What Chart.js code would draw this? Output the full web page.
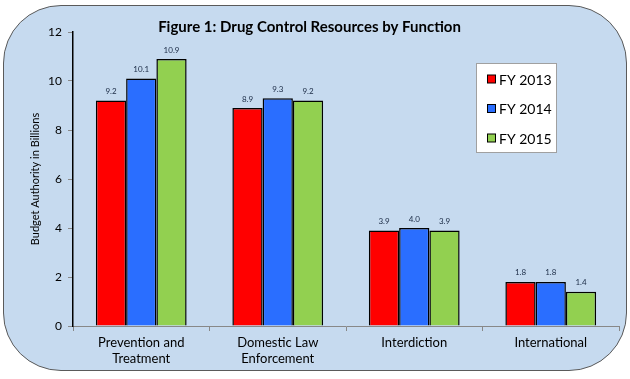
<!DOCTYPE html>
<html>
<head>
<meta charset="utf-8">
<script src="https://cdn.jsdelivr.net/npm/chart.js@4.4.0/dist/chart.umd.min.js"></script>
<style>
  html, body { margin: 0; padding: 0; background: #ffffff; }
  #wrap { position: relative; width: 630px; height: 379px; }
  #bg { position: absolute; left: 3px; top: 5px; width: 622px; height: 364px;
        border: 1.5px solid #5a5a5a; border-radius: 58px; background: #c6daef; }
  #c { position: absolute; left: 0; top: 0; }
</style>
</head>
<body>
<div id="wrap">
  <div id="bg"></div>
  <canvas id="c" width="630" height="379"></canvas>
</div>
<script>
const categories = [["Prevention and", "Treatment"], ["Domestic Law", "Enforcement"], "Interdiction", "International"];
const seriesNames = ["FY 2013", "FY 2014", "FY 2015"];
const fy2013 = [9.2, 8.9, 3.9, 1.8];
const fy2014 = [10.1, 9.3, 4.0, 1.8];
const fy2015 = [10.9, 9.2, 3.9, 1.4];
const yTicks = [0, 2, 4, 6, 8, 10, 12];
const colors = ["#ff0000", "#2a6eff", "#92d050"];

const FONT = "Lato, 'Open Sans', sans-serif";

const valueLabels = {
  id: 'valueLabels',
  afterDatasetsDraw(chart) {
    const ctx = chart.ctx;
    ctx.save();
    ctx.font = "8px " + FONT;
    ctx.fillStyle = "#1a2a44";
    ctx.textAlign = "center";
    ctx.textBaseline = "bottom";
    chart.data.datasets.forEach((ds, i) => {
      const meta = chart.getDatasetMeta(i);
      meta.data.forEach((bar, j) => {
        ctx.fillText(ds.data[j].toFixed(1), bar.x, bar.y - 5);
      });
    });
    ctx.restore();
  }
};

const boxLegend = {
  id: 'boxLegend',
  afterDraw(chart) {
    const ctx = chart.ctx;
    ctx.save();
    const x = 476.5, y = 63.5, w = 80, h = 89;
    ctx.fillStyle = "#ffffff";
    ctx.fillRect(x, y, w, h);
    ctx.strokeStyle = "#a0a0a0";
    ctx.lineWidth = 1;
    ctx.strokeRect(x, y, w, h);
    ctx.font = "14px " + FONT;
    ctx.textBaseline = "middle";
    ctx.textAlign = "left";
    chart.data.datasets.forEach((ds, i) => {
      const cy = 79 + i * 29.5;
      ctx.fillStyle = ds.backgroundColor;
      ctx.fillRect(487.5, cy - 4, 8, 8);
      ctx.strokeStyle = "#000";
      ctx.strokeRect(487.5, cy - 4, 8, 8);
      ctx.fillStyle = "#000";
      ctx.fillText(ds.label, 499, cy + 1);
    });
    ctx.restore();
  }
};

new Chart(document.getElementById('c'), {
  type: 'bar',
  data: {
    labels: categories,
    datasets: [
      { label: seriesNames[0], data: fy2013, backgroundColor: colors[0] },
      { label: seriesNames[1], data: fy2014, backgroundColor: colors[1] },
      { label: seriesNames[2], data: fy2015, backgroundColor: colors[2] }
    ].map(d => Object.assign(d, { borderColor: "#000", borderWidth: 1.5, categoryPercentage: 0.665, barPercentage: 1.0 }))
  },
  options: {
    responsive: false,
    animation: false,
    devicePixelRatio: 1,
    layout: { padding: { left: 0, right: 11, top: 0, bottom: 0 } },
    plugins: {
      legend: { display: false },
      tooltip: { enabled: false },
      title: {
        display: true,
        text: "Figure 1: Drug Control Resources by Function",
        color: "#000",
        font: { family: FONT, size: 15, weight: 'bold' },
        padding: { top: 18, bottom: -4 }
      }
    },
    scales: {
      x: {
        grid: { display: true, offset: true, drawOnChartArea: false, tickLength: 5, color: "#888" },
        border: { color: "#888", width: 1 },
        ticks: { color: "#000", font: { family: FONT, size: 13 }, padding: 4, maxRotation: 0 },
        afterFit(scale) { scale.height = 53; }
      },
      y: {
        min: 0, max: 12,
        afterBuildTicks(scale) { scale.ticks = yTicks.map(v => ({ value: v })); },
        grid: { display: true, drawOnChartArea: false, tickLength: 5, color: "#888" },
        border: { color: "#000", width: 1.5 },
        ticks: { color: "#000", font: { family: FONT, size: 12 }, padding: 6 },
        title: { display: true, text: "Budget Authority in Billions", color: "#000", font: { family: FONT, size: 11 }, padding: { top: 29, bottom: 0 } },
        afterFit(scale) { scale.width = 73; }
      }
    }
  },
  plugins: [valueLabels, boxLegend]
});
</script>
</body>
</html>
